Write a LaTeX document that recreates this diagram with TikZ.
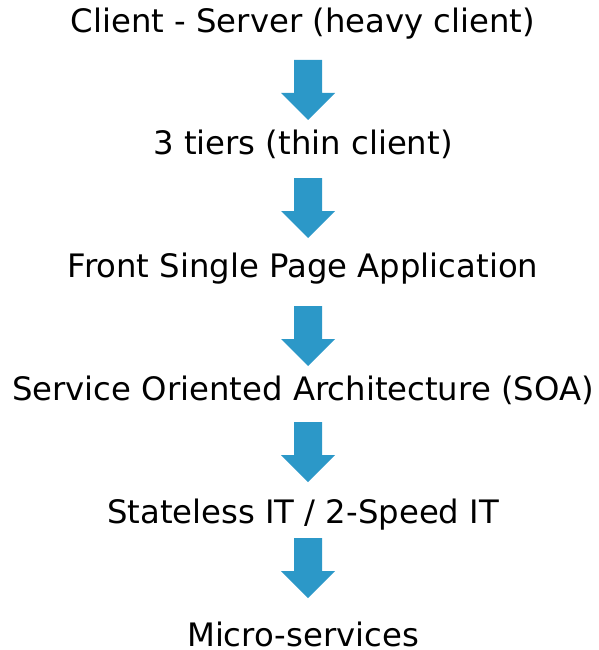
\documentclass[tikz,border=0pt]{standalone}
\usepackage{fontspec}
\setmainfont{DejaVu Sans}
\definecolor{arrowblue}{RGB}{44,152,200}
\tikzset{
    step label/.style={anchor=base,inner sep=0pt},
    downarrow/.pic={
        \fill[arrowblue] (-14,0)--(14,0)--(14,-33)--(27,-33)--(0,-60)--(-27,-33)--(-14,-33)--cycle;
    }
}
\begin{document}
\begin{tikzpicture}[x=1pt,y=1pt,font=\fontsize{32.3}{38}\selectfont]
                \useasboundingbox (0,0) rectangle (599,-650);
                \node[step label] (cs) at (303,-33) {Client - Server (heavy client)};
                \node[step label] (tiers) at (303,-154) {3 tiers (thin client)};
                \node[step label] (spa) at (303,-277) {Front Single Page Application};
                \node[step label] (soa) at (303,-400) {Service Oriented Architecture (SOA)};
                \node[step label] (stateless) at (303,-523) {Stateless IT / 2-Speed IT};
                \node[step label] (micro) at (303,-646) {Micro-services};
                % arrows between the steps
                \foreach \top in {60,178,306,422,538}
                    \pic at (308,-\top) {downarrow};
            \end{tikzpicture}
\end{document}
